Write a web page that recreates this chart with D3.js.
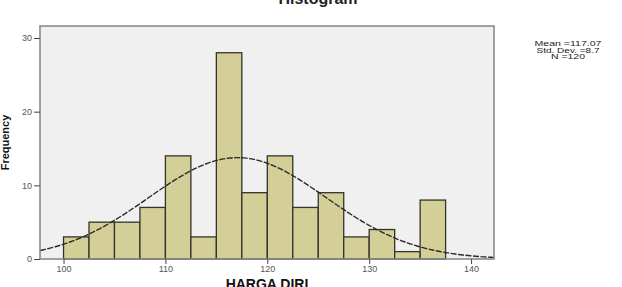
<!DOCTYPE html>
<html>
<head>
<meta charset="utf-8">
<script src="https://cdn.jsdelivr.net/npm/d3@7"></script>
<style>
  body { margin: 0; background: #fff; }
  svg { display: block; font-family: Arial, "Liberation Sans", sans-serif; }
</style>
</head>
<body>
<div id="chart"></div>
<script>
// histogram bins (lower edge) and counts
const binStart = [100, 102.5, 105, 107.5, 110, 112.5, 115, 117.5, 120, 122.5, 125, 127.5, 130, 132.5, 135];
const counts   = [3, 5, 5, 7, 14, 3, 28, 9, 14, 7, 9, 3, 4, 1, 8];
const binWidth = 2.5;

const xTicks = [100, 110, 120, 130, 140];
const xTickLabels = ["100", "110", "120", "130", "140"];
const yTicks = [0, 10, 20, 30];

// summary shown in the side box
const stats = { mean: 117.07, sd: 8.7, n: 120 };
const statLines = ["Mean =117.07", "Std. Dev. =8.7", "N =120"];

const W = 622, H = 287;
const margin = { top: 26, right: 128, bottom: 28, left: 40 };
const width = W - margin.left - margin.right;
const height = H - margin.top - margin.bottom;

const svg = d3.select("#chart")
    .append("svg")
    .attr("width", W)
    .attr("height", H);

const x = d3.scaleLinear()
    .domain([97.69, 142.25])
    .range([0, width]);

const y = d3.scaleLinear()
    .domain([0, 31.63])
    .range([height, 0]);

const g = svg.append("g")
    .attr("transform", `translate(${margin.left},${margin.top})`);

g.append("rect")
    .attr("width", width)
    .attr("height", height)
    .attr("fill", "#f0f0f0");

// bars
g.selectAll(".bar")
    .data(binStart.map((b, i) => ({ b, c: counts[i] })))
    .join("rect")
    .attr("class", "bar")
    .attr("x", d => x(d.b))
    .attr("y", d => y(d.c))
    .attr("width", d => x(d.b + binWidth) - x(d.b))
    .attr("height", d => y(0) - y(d.c))
    .attr("fill", "#d4cf97")
    .attr("stroke", "#34332a")
    .attr("stroke-width", 1.3);

// normal curve from the stated mean / sd / N
const curve = d3.range(x.domain()[0], x.domain()[1] + 0.01, 0.25).map(v => {
    const z = (v - stats.mean) / stats.sd;
    return [v, stats.n * binWidth / (stats.sd * Math.sqrt(2 * Math.PI)) * Math.exp(-0.5 * z * z)];
});

g.append("path")
    .datum(curve)
    .attr("fill", "none")
    .attr("stroke", "#2b2b2b")
    .attr("stroke-width", 1.4)
    .attr("stroke-dasharray", "6,1.5")
    .attr("d", d3.line().x(d => x(d[0])).y(d => y(d[1])));

// frame
g.append("rect")
    .attr("width", width)
    .attr("height", height)
    .attr("fill", "none")
    .attr("stroke", "#8a8a8a")
    .attr("stroke-width", 1.6);

// axes
const yAxis = g.append("g")
    .call(d3.axisLeft(y).tickValues(yTicks).tickSize(6).tickPadding(2));
yAxis.select(".domain").remove();
yAxis.selectAll("line").attr("stroke", "#444");
yAxis.selectAll("text").attr("fill", "#555").style("font-size", "9px");

const xAxis = g.append("g")
    .attr("transform", `translate(0,${height})`)
    .call(d3.axisBottom(x).tickValues(xTicks).tickFormat((d, i) => xTickLabels[i]).tickSize(5).tickPadding(2));
xAxis.select(".domain").remove();
xAxis.selectAll("line").attr("stroke", "#444");
xAxis.selectAll("text").attr("fill", "#555").style("font-size", "9px");

// titles (the reference shows them partly cut at the edges)
svg.append("text")
    .attr("x", 318)
    .attr("y", 4)
    .attr("text-anchor", "middle")
    .style("font-size", "16px")
    .style("font-weight", "bold")
    .attr("fill", "#222")
    .text("Histogram");

svg.append("text")
    .attr("x", margin.left + width / 2)
    .attr("y", 289)
    .attr("text-anchor", "middle")
    .style("font-size", "14px")
    .style("font-weight", "bold")
    .attr("fill", "#111")
    .text("HARGA DIRI");

svg.append("text")
    .attr("transform", `translate(9,${margin.top + height / 2}) rotate(-90)`)
    .attr("text-anchor", "middle")
    .style("font-size", "11px")
    .style("font-weight", "bold")
    .attr("fill", "#111")
    .text("Frequency");

// stats box text
const statWidths = [67, 63, 34];
svg.selectAll(".stat")
    .data(statLines)
    .join("text")
    .attr("class", "stat")
    .attr("x", (d, i) => 568 - statWidths[i] / 2)
    .attr("y", (d, i) => 46 + i * 6.5)
    .attr("textLength", (d, i) => statWidths[i])
    .attr("lengthAdjust", "spacingAndGlyphs")
    .style("font-size", "7px")
    .attr("fill", "#222")
    .text(d => d);
</script>
</body>
</html>
